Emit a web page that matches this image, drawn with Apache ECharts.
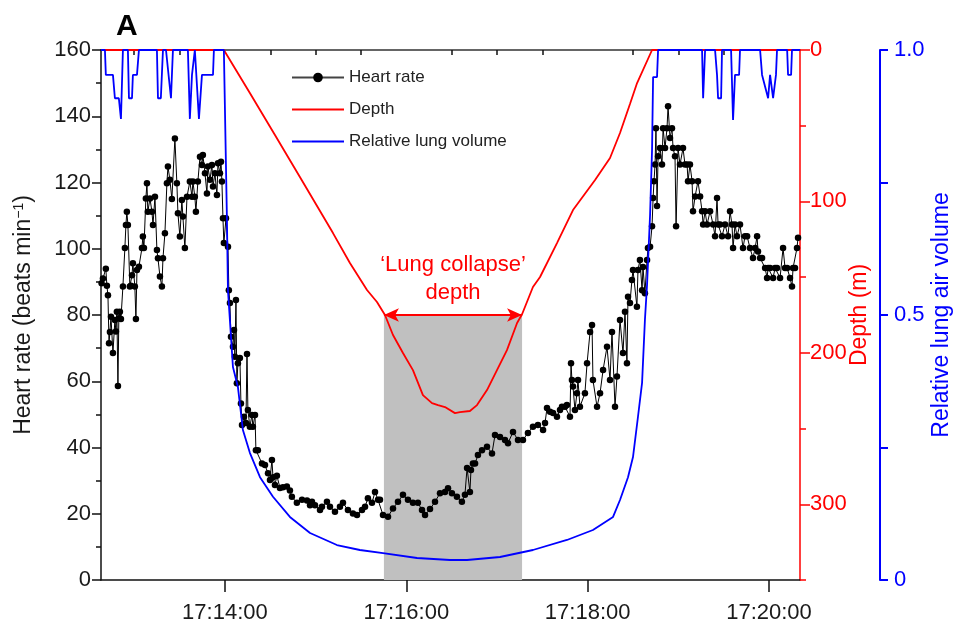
<!DOCTYPE html>
<html>
<head>
<meta charset="utf-8">
<script src="https://cdn.jsdelivr.net/npm/echarts@6/dist/echarts.min.js"></script>
<style>
  html, body { margin: 0; padding: 0; background: #fff; }
  #chart { width: 956px; height: 630px; }
</style>
</head>
<body>
<div id="chart"></div>
<script>
const FONT = '"Liberation Sans", Arial, Helvetica, sans-serif';

// Time is in seconds after 17:12:00.
// Heart rate: [time, beats per minute]
const heartRate = [
  [38.4,89.6],[39.3,91],[41.2,94],[41.9,88.8],[42.6,86],[43.3,71.5],[43.9,74.9],[44.6,79.5],[45.9,68.5],[47.2,78.5],
  [47.9,75],[48.5,81],[49.2,58.6],[49.8,79],[50.5,81],[51.2,78.8],[52.5,88.6],[53.8,100.2],[54.5,107.2],[55.1,111.2],
  [55.8,107.2],[57.1,88.6],[57.8,88.8],[58.5,92],[59.1,95.6],[60.4,88.6],[61.1,78.8],[61.8,93.6],[63.1,94.6],[65.1,100.2],
  [65.7,103.7],[66.4,100.2],[67.7,115.2],[68.4,119.8],[69.0,111.2],[70.4,115.2],[71.7,111.2],[72.4,107.2],[73.7,115.7],[75.0,99.6],
  [75.7,97.1],[77.0,91.6],[78.3,88.6],[79.0,97.1],[80.3,104.7],[81.6,119.8],[82.3,124.8],[83.6,120.8],[84.9,115],[86.9,133.3],
  [88.2,119.8],[88.9,110.7],[90.2,103.7],[91.5,114.7],[92.2,109.7],[93.5,100.2],[94.9,115.7],[96.8,120.3],[98.2,115.7],[98.8,120.3],
  [100.1,115.7],[100.8,111.2],[102.1,120.3],[103.5,127.8],[104.8,125.3],[105.4,128.3],[106.8,122.8],[108.1,116.7],[108.7,124.8],[110.1,120.8],
  [111.4,125.3],[112.1,118.8],[113.4,122.8],[114.7,116.2],[115.4,125.8],[116.7,122.8],[117.4,126.3],[118.0,120.3],[118.7,109.2],[119.3,101.7],
  [120.7,109.2],[122.0,100.6],[122.6,87.5],[123.3,83.6],[124.0,73.4],[125.3,70.4],[126.0,75.5],[126.6,67.4],[127.3,84.5],[127.9,59.4],
  [128.6,65.4],[129.9,67],[130.6,53.3],[131.3,46.8],[132.6,49.3],[133.9,47.4],[134.6,68.2],[135.2,51.3],[136.5,46.3],[137.9,49.8],
  [138.5,46.3],[139.9,49.8],[140.5,39.2],[141.8,39.2],[144.5,35.2],[146.5,34.7],[148.5,32.2],[149.8,30.2],[151.1,36.2],[151.8,31],
  [153.1,28.7],[154.4,31.5],[156.4,27.8],[158.4,28],[161.0,28.2],[163.0,27],[164.3,25.1],[167.6,23.3],[171.0,24.2],[174.3,24],
  [176.3,22.6],[177.6,23.6],[179.6,22.6],[182.9,21.1],[184.2,22.1],[187.5,23.6],[189.5,22.1],[192.8,20.6],[196.1,22.1],[198.1,23.3],
  [201.4,21.1],[204.7,20.1],[207.4,19.6],[210.7,21.1],[212.7,22.1],[214.6,24.7],[217.3,23.3],[219.3,26.6],[221.3,24.2],[222.6,24.2],
  [224.6,19.6],[227.9,19.1],[231.2,21.6],[234.5,23.6],[237.8,25.7],[241.1,24.2],[244.4,23.3],[247.7,23.3],[250.4,21.1],[252.4,19.6],
  [255.7,21.4],[259.0,23.6],[262.3,26.2],[265.6,26.6],[267.6,27.7],[270.2,26.2],[273.5,25.1],[276.8,23.6],[278.8,25.7],[280.2,33.8],
  [282.1,26.6],[282.8,33.2],[284.1,35.2],[285.5,35.2],[287.4,37.7],[290.1,39.2],[293.4,40.2],[296.7,38.2],[298.7,43.8],[302.0,43.2],
  [305.3,42.3],[307.3,41.3],[310.6,44.7],[313.9,42.3],[317.2,42.3],[320.5,44.4],[323.8,46.3],[327.1,46.8],[330.5,45.3],[331.8,47.4],
  [333.1,51.9],[335.1,50.8],[337.1,50.4],[339.7,49.3],[341.7,51.3],[343.0,52.3],[345.0,52.3],[346.3,52.8],[348.3,49.3],[349.0,65.4],
  [349.6,60.4],[350.3,58.4],[351.6,51.3],[352.9,56.4],[353.6,60.4],[354.9,52.3],[358.2,56.4],[359.6,65.4],[361.6,74.9],[362.9,77],
  [363.5,60.4],[366.2,52.3],[368.2,56.4],[370.2,63.4],[372.8,70.4],[374.8,60.4],[376.1,74.9],[378.1,52.3],[379.4,61.4],[381.4,78.5],
  [383.4,68.5],[384.7,81],[386.0,65.4],[386.7,85.5],[388.0,83.6],[389.3,90.6],[390.0,93.6],[392.6,82.5],[393.3,93.6],[394.6,96.6],
  [396.0,87.5],[396.6,94.5],[397.9,86.6],[399.3,96.6],[399.9,100.2],[401.3,100.6],[402.6,106.8],[403.3,115.3],[403.9,120.4],[404.6,125.4],
  [405.2,136.4],[405.9,112.9],[406.6,127.9],[407.9,130.4],[409.2,125.4],[409.9,136.4],[411.2,130.4],[412.5,136.4],[413.2,143],[414.5,133.4],
  [415.8,136.4],[416.5,130.4],[417.8,127.9],[418.5,106.8],[419.8,130.4],[421.1,125.4],[423.1,130.4],[424.4,125.4],[425.8,125.4],[426.4,120.4],
  [427.7,125.4],[429.1,120.4],[429.7,111.3],[431.1,115.8],[433.0,120.4],[434.4,115.8],[435.7,111.3],[436.4,107.3],[437.7,111.3],[439.0,107.3],
  [441.0,111.3],[443.0,107.3],[444.3,103.8],[445.6,115.3],[446.3,107.3],[447.6,107.3],[448.9,103.8],[450.9,107.3],[452.9,103.8],[454.2,111.3],
  [455.5,107.3],[456.2,100.2],[457.5,107.3],[458.8,103.8],[460.8,107.3],[462.8,100.2],[464.1,103.8],[465.5,103.8],[467.4,100.2],[469.4,97.2],
  [470.8,100.2],[472.1,103.8],[472.7,99.2],[474.1,97.2],[475.4,97.2],[477.4,94.2],[478.7,91.2],[479.4,94.2],[480.7,94.2],[482.7,91.2],
  [484.0,94.2],[485.3,94.2],[487.3,91.2],[489.3,100.2],[490.6,94.2],[492.0,94.2],[493.9,91.2],[495.2,88.6],[495.9,94.2],[497.2,94.2],
  [498.5,100.2],[499.2,103.3]
];

// Depth: [time, metres]
const depth = [
  [38,0],[119.3,0],[136.5,28.4],[153.1,56.1],[169.6,83.9],[191.5,120.9],[202.7,140.7],[214.0,158.5],[220.6,166.4],[225.9,175.0],
  [231.2,188.2],[237.8,200.1],[244.4,211.4],[251.0,227.9],[257.0,233.2],[261.0,234.5],[262.3,233.2],[265.6,235.8],[272.2,239.8],[275.5,239.1],
  [282.1,238.4],[286.8,234.5],[293.4,224.6],[300.0,211.4],[306.6,198.2],[313.3,180.3],[316.6,174.5],[323.8,156.5],[328.5,149.9],[339.7,127.5],
  [350.3,105.7],[364.9,85.9],[374.8,71.3],[381.4,54.8],[388.0,35.7],[392.7,21.8],[402.6,0],[500.5,0]
];

// Relative lung air volume: [time, fraction]
const lungVolume = [
  [38,1],[40.6,1],[41.2,0.953],[45.9,0.953],[47.2,0.909],[49.8,0.909],[51.2,0.87],[52.5,1],[55.8,1],[56.5,0.909],
  [58.5,0.909],[59.1,0.953],[61.8,0.953],[63.1,1],[75.0,1],[75.7,0.909],[77.6,0.909],[79.0,1],[81.0,1],[84.3,0.909],
  [85.6,1],[95.5,1],[96.8,0.87],[98.2,0.953],[100.1,1],[102.8,0.87],[104.8,0.953],[112.1,0.953],[112.7,1],[119.3,1],
  [121.3,0.685],[122.0,0.547],[125.3,0.402],[128.6,0.364],[131.9,0.283],[136.5,0.24],[143.2,0.194],[151.8,0.157],[163.0,0.119],[176.3,0.0887],
  [194.1,0.066],[209.3,0.0566],[224.6,0.0509],[247.1,0.0415],[268.9,0.0377],[280.2,0.0377],[302.0,0.0434],[323.8,0.0566],[346.3,0.0755],[363.5,0.0943],
  [376.8,0.119],[381.4,0.151],[386.7,0.194],[390.0,0.232],[393.3,0.308],[396.0,0.372],[397.9,0.491],[399.3,0.557],[401.3,0.689],[402.6,0.811],
  [403.3,0.949],[405.9,0.949],[406.6,1],[435.7,1],[436.4,0.909],[437.7,1],[444.3,1],[445.6,0.953],[446.3,0.909],[448.3,0.909],
  [448.9,1],[454.9,1],[456.2,0.868],[457.5,0.953],[460.2,0.953],[460.8,1],[474.1,1],[475.4,0.953],[476.7,0.953],[479.4,0.909],
  [480.7,0.953],[482.7,0.909],[484.6,0.953],[485.3,1],[492.0,1],[492.6,0.953],[494.6,0.953],[495.2,1],[500.5,1]
];

// Axis ticks
const timeLabelTicks = [120, 240, 360, 480];
const timeMinorTicks = [60, 90, 150, 180, 210, 270, 300, 330, 390, 420, 450];
const depthLabelTicks = [0, 100, 200, 300];
const lungLabels = { 0: '0', 0.5: '0.5', 1: '1.0' };

// "Lung collapse" depth band
const collapseStart = 225.2;
const collapseEnd = 316.6;
const collapseDepth = 175;

const T_MIN = 38, T_MAX = 500.5;
const DEPTH_MAX = 350;

function clock(t) {
  const total = 17 * 3600 + 12 * 60 + Math.round(t);
  const h = Math.floor(total / 3600);
  const m = Math.floor((total % 3600) / 60);
  const s = total % 60;
  const p = (n) => String(n).padStart(2, '0');
  return h + ':' + p(m) + ':' + p(s);
}

const BLACK = '#111';
const RED = '#ff0000';
const BLUE = '#0000ff';

const chart = echarts.init(document.getElementById('chart'), null, { renderer: 'canvas' });

chart.setOption({
  animation: false,
  backgroundColor: '#fff',
  textStyle: { fontFamily: FONT },
  title: {
    text: 'A', left: 111, top: 7,
    textStyle: { fontFamily: FONT, fontSize: 30, fontWeight: 'bold', color: '#000' }
  },
  legend: {
    orient: 'vertical', left: 286, top: 64,
    itemWidth: 52, itemHeight: 12, itemGap: 15,
    textStyle: { fontFamily: FONT, fontSize: 17, color: '#222' },
    data: [
      { name: 'Heart rate', lineStyle: { color: '#444', width: 2 }, itemStyle: { color: '#000' } },
      { name: 'Depth', icon: 'inherit', itemStyle: { opacity: 0 } },
      { name: 'Relative lung volume', icon: 'inherit', itemStyle: { opacity: 0 } }
    ]
  },
  grid: { left: 101, right: 156, top: 50, bottom: 50, containLabel: false, outerBoundsMode: 'none' },
  xAxis: [
    {
      type: 'value', position: 'bottom', min: T_MIN, max: T_MAX,
      splitLine: { show: false },
      axisLine: { show: true, lineStyle: { color: BLACK, width: 1.5 } },
      axisTick: { show: true, inside: false, length: 12, customValues: timeLabelTicks, lineStyle: { color: BLACK, width: 1.5 } },
      axisLabel: { show: true, customValues: timeLabelTicks, margin: 22, formatter: (v) => clock(v),
                   fontFamily: FONT, fontSize: 22, color: '#1a1a1a' }
    },
    {
      type: 'value', position: 'bottom', min: T_MIN, max: T_MAX,
      splitLine: { show: false },
      axisLine: { show: false },
      axisTick: { show: true, inside: false, length: 5, customValues: timeMinorTicks, lineStyle: { color: BLACK, width: 1.5 } },
      axisLabel: { show: false }
    },
    {
      type: 'value', position: 'top', min: T_MIN, max: T_MAX,
      splitLine: { show: false },
      axisLine: { show: true, lineStyle: { color: '#333', width: 1.5 } },
      axisTick: { show: false },
      axisLabel: { show: false }
    }
  ],
  yAxis: [
    {
      type: 'value', position: 'left', min: 0, max: 160, interval: 20,
      name: 'Heart rate (beats min{sup|−1})', nameLocation: 'middle', nameGap: 66, nameMoveOverlap: false,
      nameTextStyle: { fontFamily: FONT, fontSize: 23, color: '#1a1a1a',
                       rich: { sup: { fontSize: 14, verticalAlign: 'top', lineHeight: 14, fontFamily: FONT, color: '#1a1a1a' } } },
      splitLine: { show: false },
      axisLine: { show: true, lineStyle: { color: BLACK, width: 1.5 } },
      axisTick: { show: true, inside: false, length: 9, lineStyle: { color: BLACK, width: 1.5 } },
      minorTick: { show: true, splitNumber: 2, length: 5, lineStyle: { color: BLACK, width: 1.5 } },
      axisLabel: { margin: 10, fontFamily: FONT, fontSize: 22, color: '#1a1a1a' }
    },
    {
      type: 'value', position: 'right', offset: 0, min: 0, max: DEPTH_MAX, interval: 50, inverse: true,
      name: 'Depth (m)', nameLocation: 'middle', nameGap: 48, nameMoveOverlap: false,
      nameTextStyle: { fontFamily: FONT, fontSize: 23, color: RED },
      splitLine: { show: false },
      axisLine: { show: true, lineStyle: { color: RED, width: 1.5 } },
      axisTick: { show: true, inside: false, length: 6, lineStyle: { color: RED, width: 1.5 } },
      axisLabel: { margin: 10, fontFamily: FONT, fontSize: 22, color: RED,
                   formatter: (v) => (v % 100 === 0 ? String(v) : '') }
    },
    {
      type: 'value', position: 'right', offset: 0, min: 0, max: DEPTH_MAX, inverse: true,
      splitLine: { show: false },
      axisLine: { show: false },
      axisTick: { show: true, inside: false, length: 10, customValues: depthLabelTicks, lineStyle: { color: RED, width: 1.5 } },
      axisLabel: { show: false }
    },
    {
      type: 'value', position: 'right', offset: 80, min: 0, max: 1, interval: 0.25,
      name: 'Relative lung air volume', nameLocation: 'middle', nameGap: 50, nameMoveOverlap: false,
      nameTextStyle: { fontFamily: FONT, fontSize: 23, color: BLUE },
      splitLine: { show: false },
      axisLine: { show: true, lineStyle: { color: BLUE, width: 2 } },
      axisTick: { show: true, inside: false, length: 8, lineStyle: { color: BLUE, width: 2 } },
      axisLabel: { margin: 14, fontFamily: FONT, fontSize: 22, color: BLUE,
                   formatter: (v) => (lungLabels[v] !== undefined ? lungLabels[v] : '') }
    }
  ],
  series: [
    {
      name: 'collapse band', type: 'line', xAxisIndex: 0, yAxisIndex: 1, data: [], z: 1, silent: true,
      markArea: {
        silent: true,
        itemStyle: { color: '#c0c0c0', opacity: 1 },
        data: [[{ coord: [collapseStart, collapseDepth] }, { coord: [collapseEnd, DEPTH_MAX] }]]
      },
      markLine: {
        silent: true,
        symbol: ['arrow', 'arrow'], symbolSize: [10, 15],
        lineStyle: { color: RED, width: 2, type: 'solid' },
        label: {
          show: true, position: 'middle', distance: 8,
          formatter: '‘Lung collapse’\ndepth',
          fontFamily: FONT, fontSize: 22, lineHeight: 28, color: RED
        },
        data: [[{ coord: [collapseStart, collapseDepth] }, { coord: [collapseEnd, collapseDepth] }]]
      }
    },
    {
      name: 'Heart rate', type: 'line', xAxisIndex: 0, yAxisIndex: 0, data: heartRate, z: 3,
      symbol: 'circle', symbolSize: 6.5, showSymbol: true,
      itemStyle: { color: '#000' },
      lineStyle: { color: '#000', width: 1 }
    },
    {
      name: 'Depth', type: 'line', xAxisIndex: 0, yAxisIndex: 1, data: depth, z: 4,
      showSymbol: false, symbol: 'none',
      itemStyle: { color: RED },
      lineStyle: { color: RED, width: 1.8 }
    },
    {
      name: 'Relative lung volume', type: 'line', xAxisIndex: 0, yAxisIndex: 3, data: lungVolume, z: 5,
      showSymbol: false, symbol: 'none',
      itemStyle: { color: BLUE },
      lineStyle: { color: BLUE, width: 1.8 }
    }
  ]
});
</script>
</body>
</html>
